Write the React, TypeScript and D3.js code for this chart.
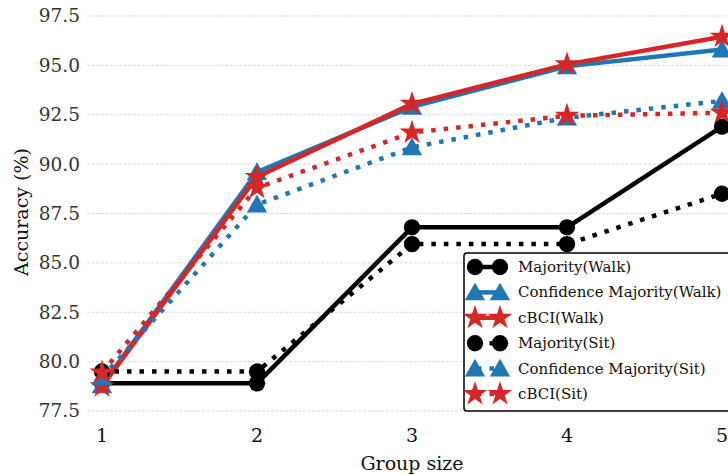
import * as d3 from "d3";

const groupSizes = [1, 2, 3, 4, 5];
const majorityWalk = [78.9, 78.9, 86.8, 86.8, 91.9];
const confMajorityWalk = [78.8, 89.6, 92.9, 94.95, 95.8];
const cbciWalk = [78.75, 89.35, 93.05, 95.05, 96.45];
const majoritySit = [79.5, 79.5, 85.95, 85.95, 88.5];
const confMajoritySit = [79.2, 87.95, 90.85, 92.35, 93.2];
const cbciSit = [79.45, 88.8, 91.6, 92.45, 92.6];
const yTicks = [77.5, 80.0, 82.5, 85.0, 87.5, 90.0, 92.5, 95.0, 97.5];

type Series = {
  name: string;
  values: number[];
  color: string;
  marker: "circle" | "triangle" | "star";
  dotted: boolean;
};

const series: Series[] = [
  { name: "Majority(Walk)", values: majorityWalk, color: "#000000", marker: "circle", dotted: false },
  { name: "Confidence Majority(Walk)", values: confMajorityWalk, color: "#1f77b4", marker: "triangle", dotted: false },
  { name: "cBCI(Walk)", values: cbciWalk, color: "#d62728", marker: "star", dotted: false },
  { name: "Majority(Sit)", values: majoritySit, color: "#000000", marker: "circle", dotted: true },
  { name: "Confidence Majority(Sit)", values: confMajoritySit, color: "#1f77b4", marker: "triangle", dotted: true },
  { name: "cBCI(Sit)", values: cbciSit, color: "#d62728", marker: "star", dotted: true },
];

const W = 728;
const H = 475;
const FONT = "'DejaVu Serif', serif";

const x = d3.scaleLinear().domain([0.9, 5.1]).range([86.5, 737.5]);
const y = d3.scaleLinear().domain([77.5, 97.5]).range([411, 16]);

const symbolPath = (m: Series["marker"]) => {
  const type = m === "circle" ? d3.symbolCircle : m === "triangle" ? d3.symbolTriangle : d3.symbolStar;
  const size = m === "circle" ? 210 : m === "triangle" ? 180 : 190;
  return d3.symbol().type(type).size(size)() as string;
};

function Marker({ s, cx, cy }: { s: Series; cx: number; cy: number }) {
  const dy = s.marker === "triangle" ? 2 : 0;
  return <path d={symbolPath(s.marker)} transform={`translate(${cx},${cy + dy})`} fill={s.color} />;
}

const txt = (size: number) => ({ fontFamily: FONT, fontSize: `${size}px` });

export default function App() {
  const line = d3
    .line<number>()
    .x((_, i) => x(groupSizes[i]))
    .y((d) => y(d));

  const legendX = 464;
  const legendY = 253;
  const rowH = 25.4;

  return (
    <svg width={W} height={H} style={{ position: "absolute", left: 0, top: 0, background: "#fff" }}>
      {/* grid */}
      {yTicks.map((t) => (
        <g key={t}>
          <line x1={87} x2={W} y1={y(t)} y2={y(t)} stroke="#cfcfcf" strokeWidth={0.8} strokeDasharray="3,1.6" />
          <text x={80} y={y(t)} dy="0.35em" textAnchor="end" style={txt(18.5)} fill="#333">
            {t.toFixed(1)}
          </text>
        </g>
      ))}
      {groupSizes.map((g) => (
        <text key={g} x={x(g)} y={442} textAnchor="middle" style={txt(19)} fill="#111">
          {g}
        </text>
      ))}
      <text x={412} y={470} textAnchor="middle" style={txt(19)} fill="#111">
        Group size
      </text>
      <text transform="translate(28,212) rotate(-90)" textAnchor="middle" style={txt(19)} fill="#111">
        Accuracy (%)
      </text>

      {/* series */}
      {series.map((s) => (
        <g key={s.name}>
          <path
            d={line(s.values) as string}
            fill="none"
            stroke={s.color}
            strokeWidth={4.5}
            strokeDasharray={s.dotted ? "4.5,8" : undefined}
            strokeLinejoin="round"
          />
          {s.values.map((v, i) => (
            <Marker key={i} s={s} cx={x(groupSizes[i])} cy={y(v)} />
          ))}
        </g>
      ))}

      {/* legend */}
      <rect
        x={legendX}
        y={legendY}
        width={W - legendX + 10}
        height={158}
        rx={3}
        fill="#fff"
        fillOpacity={0.9}
        stroke="#000"
        strokeWidth={1.5}
      />
      {series.map((s, i) => {
        const cy = legendY + 14 + i * rowH;
        return (
          <g key={s.name}>
            <line
              x1={475}
              x2={500}
              y1={cy}
              y2={cy}
              stroke={s.color}
              strokeWidth={4.5}
              strokeDasharray={s.dotted ? "4.5,8" : undefined}
              strokeDashoffset={s.dotted ? -2 : 0}
            />
            <Marker s={s} cx={475} cy={cy} />
            <Marker s={s} cx={500} cy={cy} />
            <text x={518} y={cy} dy="0.33em" style={txt(15)} fill="#111">
              {s.name}
            </text>
          </g>
        );
      })}
    </svg>
  );
}
